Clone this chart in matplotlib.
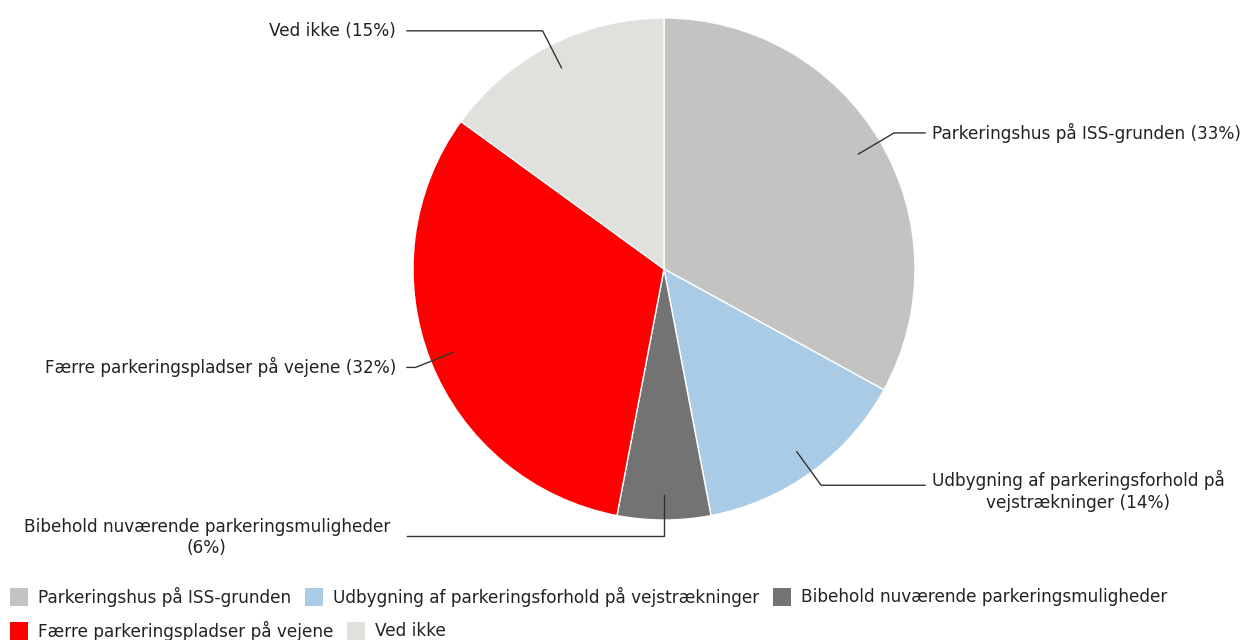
import matplotlib.pyplot as plt
import numpy as np
from matplotlib.patches import Rectangle

# data
categories = [
    "Parkeringshus på ISS-grunden",
    "Udbygning af parkeringsforhold på vejstrækninger",
    "Bibehold nuværende parkeringsmuligheder",
    "Færre parkeringspladser på vejene",
    "Ved ikke",
]
values = [33, 14, 6, 32, 15]
slice_labels = [
    "Parkeringshus på ISS-grunden (33%)",
    "Udbygning af parkeringsforhold på\nvejstrækninger (14%)",
    "Bibehold nuværende parkeringsmuligheder\n(6%)",
    "Færre parkeringspladser på vejene (32%)",
    "Ved ikke (15%)",
]
colors = ["#c3c3c1", "#a9cbe5", "#737373", "#ff0000", "#e0e0dc"]

W, H = 1249, 640
fig = plt.figure(figsize=(W / 100, H / 100), dpi=100)
ax = fig.add_axes([0, 0, 1, 1])

cx, cy, R = 664, H - 269, 251
wedges, _ = ax.pie(values, colors=colors, startangle=90, counterclock=False,
                   center=(cx, cy), radius=R, frame=True,
                   wedgeprops=dict(edgecolor="white", linewidth=1))
ax.set_xlim(0, W)
ax.set_ylim(0, H)
ax.set_aspect("equal")
ax.axis("off")

fs = 12.2
txt_col = "#222222"
for w, lab in zip(wedges, slice_labels):
    mid = np.deg2rad((w.theta1 + w.theta2) / 2)
    x0, y0 = cx + 0.9 * R * np.cos(mid), cy + 0.9 * R * np.sin(mid)
    x1, y1 = cx + 1.065 * R * np.cos(mid), cy + 1.065 * R * np.sin(mid)
    multi = "\n" in lab
    if np.cos(mid) > 0.01:
        x2 = 925
        ax.plot([x0, x1, x2], [y0, y1, y1], color="#333333", lw=1)
        ax.text(x2 + 7, y1 - (6 if multi else 0), lab, ha="left", va="center",
                fontsize=fs, multialignment="center", color=txt_col,
                linespacing=1.3)
    else:
        x2 = 407
        ax.plot([x0, x1, x2], [y0, y1, y1], color="#333333", lw=1)
        ax.text(x2 - 11 - (6 if multi else 0), y1 - (1 if multi else 0), lab,
                ha="right", va="center", fontsize=fs, multialignment="center",
                color=txt_col, linespacing=1.2)

# legend drawn as flowing rows
fig.canvas.draw()
renderer = fig.canvas.get_renderer()
rows = [[0, 1, 2], [3, 4]]
row_y = [H - 597, H - 631]
for r, idxs in zip(row_y, rows):
    x = 10
    for i in idxs:
        ax.add_patch(Rectangle((x, r - 9), 18, 18, color=colors[i], lw=0))
        t = ax.text(x + 28, r, categories[i], ha="left", va="center",
                    fontsize=fs, color=txt_col)
        bb = t.get_window_extent(renderer)
        x = x + 28 + bb.width + 14

fig.savefig("out.png", dpi=100)
